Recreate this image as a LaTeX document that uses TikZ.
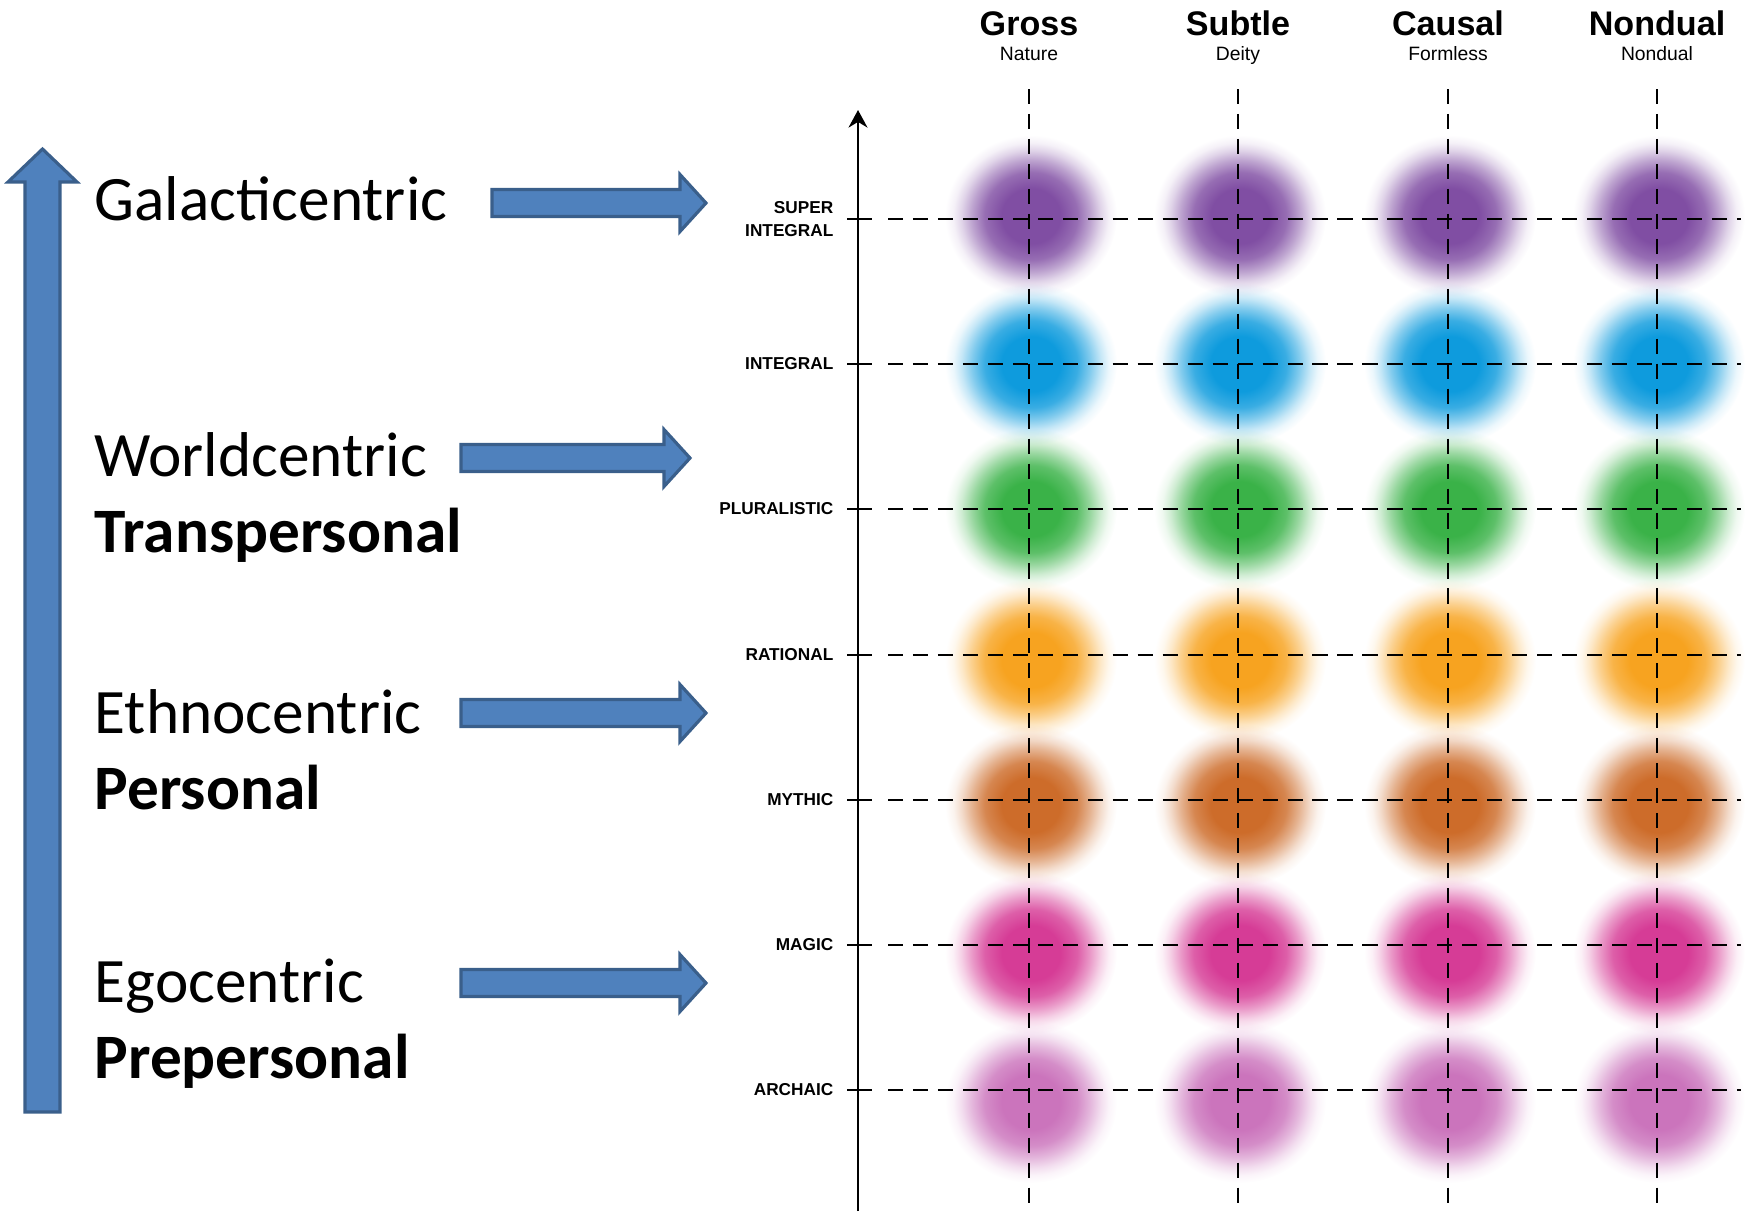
\documentclass[tikz,border=0pt]{standalone}
\usepackage{fontspec}
\setmainfont{Carlito}
\newfontfamily\helv{Liberation Sans}
\usepackage{tikz}
\usetikzlibrary{arrows.meta,shapes}

\definecolor{arrowfill}{HTML}{4F81BD}
\definecolor{arrowline}{HTML}{3A5F8B}
\definecolor{purp}{HTML}{804EA3}
\definecolor{blu}{HTML}{0E9BDD}
\definecolor{grn}{HTML}{3AB248}
\definecolor{orng}{HTML}{F7A320}
\definecolor{brwn}{HTML}{CD6C2A}
\definecolor{mgnt}{HTML}{D63C96}
\definecolor{arch}{HTML}{CB74BC}
\colorlet{bc}{purp}

\pgfdeclareradialshading[bc]{blob}{\pgfpointorigin}{%
  color(0bp)=(bc); color(8.5bp)=(bc); color(13.5bp)=(bc!82!white);
  color(17.2bp)=(bc!52!white); color(20.3bp)=(bc!24!white); color(22.6bp)=(bc!8!white);
  color(25bp)=(white); color(50bp)=(white)}

\tikzset{
  bluearrow/.style={fill=arrowfill, draw=arrowline, line width=0.9pt, line join=miter},
  gridline/.style={line width=0.65pt, dash pattern=on 4.3pt off 2.8pt},
  tickmark/.style={line width=0.6pt},
  level/.style={font=\helv\bfseries\fontsize{4.9}{6.3}\selectfont, anchor=east, inner sep=0pt, align=right},
  head/.style={font=\helv\bfseries\fontsize{9.7}{11}\selectfont, anchor=base, inner sep=0pt},
  subhead/.style={font=\helv\fontsize{5.5}{6}\selectfont, anchor=base, inner sep=0pt},
  centric/.style={font=\fontsize{18}{20}\selectfont, anchor=base west, inner sep=0pt},
  perso/.style={font=\bfseries\fontsize{18}{20}\selectfont, anchor=base west, inner sep=0pt}
}

\newcommand\hblock[3]{% tail x, tip x, centre y
  \draw[bluearrow] (#1,#3-13.5) -- (#2-26,#3-13.5) -- (#2-26,#3-28.5) -- (#2,#3)
    -- (#2-26,#3+28.5) -- (#2-26,#3+13.5) -- (#1,#3+13.5) -- cycle;}

\begin{document}
\begin{tikzpicture}[x=0.01cm, y=-0.01cm]
\useasboundingbox (0,0) rectangle (1752,1211);

% blobs
\foreach \y/\d/\c in {219/-3/purp, 364/0/blu, 509/0/grn, 655/5/orng, 800/5/brwn, 945/8/mgnt, 1090/12/arch}
  \foreach \x in {1029,1238,1448,1657}{
    \colorlet{bc}{\c}
    \shade[shading=blob, blend mode=multiply] (\x+2,\y+\d) ellipse [x radius=0.86cm, y radius=0.81cm];
  }

% columns
\foreach \x/\n/\t/\s in {1029/gross/Gross/Nature, 1238/subtle/Subtle/Deity,
    1448/causal/Causal/Formless, 1657/nondual/Nondual/Nondual}{
  \node[head] (\n) at (\x,35) {\t};
  \node[subhead] (\n-sub) at (\x,60) {\s};
  \coordinate (\n-top) at (\x,89);
  \coordinate (\n-bot) at (\x,1211);
  \draw[gridline] (\n-top) -- (\n-bot);
}

% levels
\foreach \y/\n/\t in {219/superint/{SUPER\\INTEGRAL}, 364/integral/INTEGRAL,
    509/pluralistic/PLURALISTIC, 655/rational/RATIONAL, 800/mythic/MYTHIC,
    945/magic/MAGIC, 1090/archaic/ARCHAIC}{
  \node[level] (\n) at (834,\y) {\t};
  \coordinate (\n-l) at (847,\y);
  \coordinate (\n-r) at (872,\y);
  \coordinate (\n-a) at (888,\y);
  \coordinate (\n-b) at (1741,\y);
  \draw[tickmark] (\n-l) -- (\n-r);
  \draw[gridline] (\n-a) -- (\n-b);
}

% axis
\coordinate (origin) at (858,1211);
\coordinate (axistop) at (858,110);
\draw[line width=0.6pt, -{Stealth[length=5pt, width=5.4pt]}] (origin) -- (axistop);

% left side
\draw[bluearrow] (25,1112) -- (25,182) -- (8,182) -- (42.5,149) -- (77,182)
  -- (60,182) -- (60,1112) -- cycle;

\node[centric] (galactic) at (94,220) {Galacticentric};
\node[centric] (world) at (94,476) {Worldcentric};
\node[perso] (transp) at (94,552) {Transpersonal};
\node[centric] (ethno) at (94,733) {Ethnocentric};
\node[perso] (personal) at (94,809) {Personal};
\node[centric] (ego) at (94,1002) {Egocentric};
\node[perso] (prep) at (94,1078) {Prepersonal};

\hblock{492}{706}{203}
\hblock{461}{690}{458}
\hblock{461}{706}{713}
\hblock{461}{706}{983}
\end{tikzpicture}
\end{document}
